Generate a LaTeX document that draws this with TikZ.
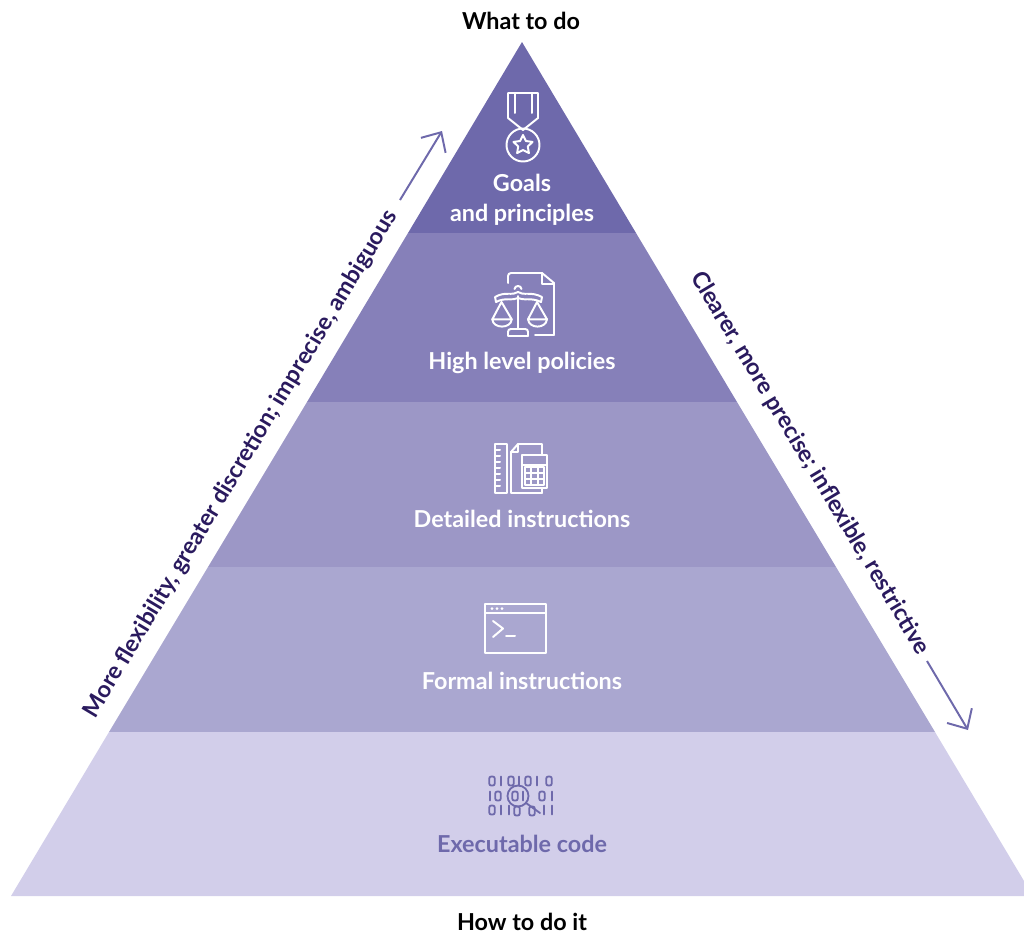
\documentclass[tikz,border=0pt]{standalone}
\usepackage{fontspec}
\setmainfont{Lato}
\usetikzlibrary{arrows.meta}
\definecolor{bandone}{HTML}{6E69AB}
\definecolor{bandtwo}{HTML}{8680B9}
\definecolor{bandthree}{HTML}{9C97C6}
\definecolor{bandfour}{HTML}{AAA7D0}
\definecolor{bandfive}{HTML}{D2CEEA}
\definecolor{edgetext}{HTML}{2A1A5E}
\tikzset{
  bandlabel/.style={text=white,font=\fontsize{16.6}{21}\selectfont\bfseries,align=center},
  endlabel/.style={text=black,font=\fontsize{16.6}{21}\selectfont\bfseries},
  edgelabel/.style={text=edgetext,font=\fontsize{16.6}{21}\selectfont\bfseries},
  edgearrow/.style={draw=bandone,line width=1.4pt,-{Straight Barb[length=10.9pt,width=20.5pt]}},
  iconline/.style={draw=white,line width=1.4pt,line join=round,line cap=round},
  binline/.style={draw=bandone,line width=1.3pt,line cap=round},
}
\begin{document}
\begin{tikzpicture}[x=0.025cm,y=-0.025cm]
\clip (0,0) rectangle (1024,936);

% Drawing pyramid bands
\fill [bandone] (522,42) -- (636,233) -- (408,233) -- cycle;
\fill [bandtwo] (408,233) -- (636,233) -- (737,402) -- (307,402) -- cycle;
\fill [bandthree] (307,402) -- (737,402) -- (836,567) -- (208,567) -- cycle;
\fill [bandfour] (208,567) -- (836,567) -- (935,732) -- (109,732) -- cycle;
\fill [bandfive] (109,732) -- (935,732) -- (1033,896) -- (11,896) -- cycle;

% Drawing labels
\node [endlabel] (whattodo) at (521,21) {What to do};
\node [endlabel] (howtodoit) at (522,922) {How to do it};
\node [bandlabel] (goals) at (522,200) {Goals\\and principles};
\node [bandlabel] (policies) at (522,363) {High level policies};
\node [bandlabel] (detailed) at (522,519) {Detailed instructions};
\node [bandlabel] (formal) at (522,681) {Formal instructions};
\node [bandlabel,text=bandone] (executable) at (522,844) {Executable code};
\node [edgelabel,rotate=59] (flexible) at (241,464) {More flexibility, greater discretion; imprecise, ambiguous};
\node [edgelabel,rotate=-59] (precise) at (810,463) {Clearer, more precise; inflexible, restrictive};

% Drawing edge arrows
\coordinate (upstart) at (400,200);
\coordinate (upend) at (442,131);
\coordinate (downstart) at (927,661);
\coordinate (downend) at (968,730);
\draw [edgearrow] (upstart) -- (upend);
\draw [edgearrow] (downstart) -- (downend);

% Drawing medal
\draw [iconline] (515,113) -- (515,93) (532,93) -- (532,113);
\draw [iconline] (523,130) -- (508,118) -- (508,93) -- (538,93) -- (538,118) -- cycle;
\draw [iconline] (523,145) circle (16.5);
\draw [iconline] (523,135) -- (525.9,141) -- (532.5,141.9) -- (527.8,146.5) -- (528.9,153.1) -- (523,150) -- (517.1,153.1) -- (518.2,146.5) -- (513.5,141.9) -- (520.1,141) -- cycle;

% Drawing scales and paper
\draw [iconline] (508,283) -- (508,276) arc (180:270:3) -- (542,273) -- (554,283) -- (554,335) -- (535,335);
\draw [iconline] (542,273) -- (542,284) -- (554,284);
\draw [iconline] (518,296) -- (518,329);
\draw [iconline] (514.5,289) .. controls (515,285) and (521,285) .. (521.5,289);
\draw [iconline] (495,297) .. controls (505,291) and (513,296) .. (518,292) .. controls (523,296) and (531,291) .. (542,297) -- (541,302) .. controls (531,297) and (523,301) .. (518,298) .. controls (513,301) and (505,297) .. (496,302) -- cycle;
\draw [iconline] (501.5,302) -- (492.3,319.3) -- (511.7,319.3) -- cycle;
\draw [iconline] (492.3,319.3) .. controls (493,329) and (511,329) .. (511.7,319.3);
\draw [iconline] (537,302) -- (528,319.3) -- (547,319.3) -- cycle;
\draw [iconline] (528,319.3) .. controls (529,329) and (546,329) .. (547,319.3);
\draw [iconline] (508,336) -- (508,332) .. controls (508,330) and (509,329) .. (511,329) -- (525,329) .. controls (527,329) and (528,330) .. (528,332) -- (528,336) -- cycle;

% Drawing ruler and calculator
\draw [iconline] (495,444) rectangle (507,493);
\foreach \tick in {450,456,462,468,474,480,486}
  \draw [iconline] (495,\tick) -- (500,\tick);
\draw [iconline] (542,455) -- (542,444) -- (518,444) -- (511,452) -- (511,493) -- (542,493) -- (542,488);
\draw [iconline] (518,444) -- (518,452) -- (511,452);
\draw [iconline] (522,455) rectangle (547,488);
\draw [iconline] (522,465) -- (547,465);
\draw [iconline] (525,467) rectangle (544,485);
\draw [iconline] (531.3,467) -- (531.3,485) (537.7,467) -- (537.7,485) (525,473) -- (544,473) (525,479) -- (544,479);

% Drawing terminal window
\draw [iconline] (485,604) rectangle (546,653);
\draw [iconline] (485,612.5) -- (546,612.5);
\fill [white] (492,608.5) circle (1.5) (497,608.5) circle (1.5) (502,608.5) circle (1.5);
\draw [iconline] (493,621) -- (503,628.5) -- (493,637);
\draw [iconline] (506,636) -- (515,636);

% Drawing binary digits and magnifier
\foreach \px/\py in {492/781,511/781,528/781,549/781,498/796,515/796,542/796,492/810,517/811,532/811}
  \draw [binline,rounded corners=1.5pt] (\px-2.8,\py-4.5) rectangle (\px+2.8,\py+4.5);
\foreach \px/\py in {501/781,519/781,537/781,490/796,523/796,552/796,501/810,509/810,544/810,552/810}
  \draw [binline] (\px,\py-4.5) -- (\px,\py+4.5);
\draw [binline] (518,796) circle (10.5);
\draw [binline] (526,803) -- (540,813);

\end{tikzpicture}
\end{document}
